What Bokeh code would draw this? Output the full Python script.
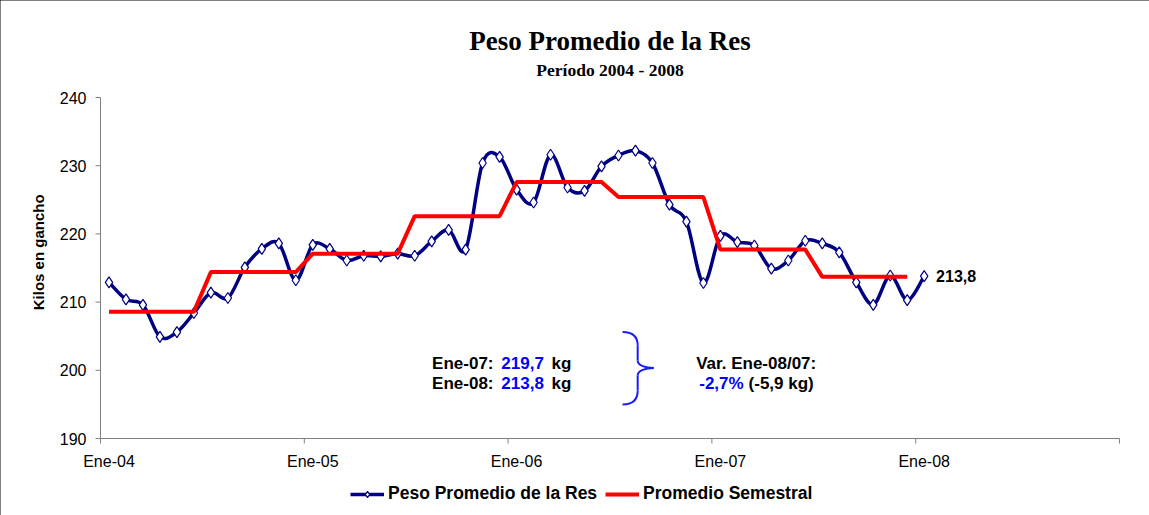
import numpy as np
from bokeh.plotting import figure
from bokeh.models import (Range1d, Legend, LegendItem)
from bokeh.core.properties import value
from bokeh.embed import file_html
from bokeh.resources import INLINE

# ---------------- data ----------------
title = "Peso Promedio de la Res"
subtitle = "Período 2004 - 2008"
y_title = "Kilos en gancho"
year_labels = ["Ene-04", "Ene-05", "Ene-06", "Ene-07", "Ene-08"]
peso = [212.9, 210.4, 209.6, 204.9, 205.6, 208.4, 211.4, 210.6, 215.1, 217.8, 218.6, 213.2,
        218.4, 217.8, 216.1, 216.8, 216.7, 217.1, 216.8, 218.9, 220.6, 217.7, 230.4, 231.3,
        226.5, 224.6, 231.6, 226.8, 226.3, 229.9, 231.5, 232.2, 230.4, 224.3, 221.8, 212.8,
        219.7, 218.8, 218.3, 214.9, 216.1, 219.0, 218.6, 217.3, 212.9, 209.6, 213.9, 210.3,
        213.8]
semestral = [208.6, 214.4, 217.1, 222.6, 227.6, 225.4, 217.7, 213.7]
y_ticks = [190, 200, 210, 220, 230, 240]
y_tick_labels = ["190", "200", "210", "220", "230", "240"]
n_categories = 60  # Ene-04 .. Dic-08

# category positions (centre of each monthly category)
xs = [i + 0.5 for i in range(len(peso))]
sem_y = [v for v in semestral for _ in range(6)]
sem_x = [i + 0.5 for i in range(len(sem_y))]
bounds = [0, 12, 24, 36, 48, 60]
label_pos = [0.5 + 12 * k for k in range(len(year_labels))]

# smoothed curve (Catmull-Rom style bezier segments through the data points)
P = np.column_stack([xs, peso])
n = len(P)
x0, y0, x1, y1, cx0, cy0, cx1, cy1 = ([] for _ in range(8))
for i in range(n - 1):
    pm = P[i - 1] if i > 0 else P[i]
    pa = P[i]
    pb = P[i + 1]
    pn = P[i + 2] if i + 2 < n else P[i + 1]
    c0 = pa + (pb - pm) / 6.0
    c1 = pb - (pn - pa) / 6.0
    x0.append(pa[0]); y0.append(pa[1]); x1.append(pb[0]); y1.append(pb[1])
    cx0.append(c0[0]); cy0.append(c0[1]); cx1.append(c1[0]); cy1.append(c1[1])

# ---------------- geometry ----------------
W, H = 1149, 515
PLOT_W, PLOT_H = 1019, 341   # pixels of the 0..60 x span and the 190..240 y span
PLOT_L, PLOT_T = 100, 97     # pixel position of the plot area
PXX = PLOT_W / n_categories
PXY = PLOT_H / (y_ticks[-1] - y_ticks[0])
x_lo = -PLOT_L / PXX
x_hi = n_categories + (W - PLOT_L - PLOT_W) / PXX
y_hi = y_ticks[-1] + PLOT_T / PXY
y_lo = y_ticks[0] - (H - PLOT_T - PLOT_H) / PXY

p = figure(frame_width=W, frame_height=H,
           min_border_left=0, min_border_right=0, min_border_top=0, min_border_bottom=0,
           x_range=Range1d(x_lo, x_hi), y_range=Range1d(y_lo, y_hi),
           x_axis_location=None, y_axis_location=None,
           output_backend="svg", toolbar_location=None,
           background_fill_color="white", border_fill_color="white",
           outline_line_color=None,
           styles={"outline": "1px solid black", "outline-offset": "-1px"})
p.xgrid.visible = False
p.ygrid.visible = False

AX = "#808080"
SANS = "Liberation Sans"
SERIF = "Liberation Serif"

# ---------------- value (y) axis ----------------
p.segment(x0=[0], y0=[y_ticks[0]], x1=[0], y1=[y_ticks[-1]], line_color=AX, line_width=1)
p.segment(x0=[0] * len(y_ticks), y0=y_ticks, x1=[-5 / PXX] * len(y_ticks), y1=y_ticks,
          line_color=AX, line_width=1)
p.text(x=[-14 / PXX] * len(y_ticks), y=y_ticks, text=y_tick_labels,
       text_font=value(SANS), text_font_size="16px", text_color="black",
       text_align="right", text_baseline="middle")
p.text(x=[-62.5 / PXX], y=[217.3], text=[y_title], angle=np.pi / 2,
       text_font=value(SANS), text_font_size="15px", text_font_style="bold",
       text_color="black", text_align="center", text_baseline="middle")

# ---------------- category (x) axis at y = 190 ----------------
base = y_ticks[0]
p.segment(x0=[bounds[0]], y0=[base], x1=[bounds[-1]], y1=[base], line_color=AX, line_width=1)
p.segment(x0=bounds, y0=[base] * len(bounds), x1=bounds, y1=[base - 5 / PXY] * len(bounds),
          line_color=AX, line_width=1)
p.text(x=label_pos, y=[base - 23 / PXY] * len(label_pos), text=year_labels,
       text_font=value(SANS), text_font_size="16px", text_color="black",
       text_align="center", text_baseline="middle")

# ---------------- titles ----------------
xc = n_categories / 2
p.text([xc], [y_ticks[-1] + 57 / PXY], text=[title], text_font=value(SERIF),
       text_font_style="bold", text_font_size="27px", text_color="black",
       text_align="center", text_baseline="middle")
p.text([xc], [y_ticks[-1] + 28 / PXY], text=[subtitle], text_font=value(SERIF),
       text_font_style="bold", text_font_size="17.5px", text_color="black",
       text_align="center", text_baseline="middle")

# ---------------- series ----------------
NAVY = "#000080"
p.bezier(x0=x0, y0=y0, x1=x1, y1=y1, cx0=cx0, cy0=cy0, cx1=cx1, cy1=cy1,
         line_color=NAVY, line_width=3.5, line_cap="round")
sc = p.scatter(xs, peso, marker="diamond", size=11, fill_color="white",
               line_color=NAVY, line_width=1.2)
red = p.line(sem_x, sem_y, line_color="#FF0000", line_width=4)
leg_line = p.line([np.nan], [np.nan], line_color=NAVY, line_width=3.5)

# end label
p.text([xs[-1] + 0.7], [peso[-1]], text=["213,8"], text_font=value(SANS),
       text_font_style="bold", text_font_size="16px", text_color="black",
       text_align="left", text_baseline="middle")

# annotation block
BLUE = "#0000FF"
tfs = "17px"
def txt(x, y, s, color, align):
    p.text([x], [y], text=[s], text_font=value(SANS), text_font_style="bold",
           text_font_size=tfs, text_color=color, text_align=align,
           text_baseline="alphabetic")

yl1, yl2 = 201.0, 198.1
txt(23.14, yl1, "Ene-07:", "black", "right")
txt(23.60, yl1, "219,7", BLUE, "left")
txt(26.56, yl1, "kg", "black", "left")
txt(23.14, yl2, "Ene-08:", "black", "right")
txt(23.60, yl2, "213,8", BLUE, "left")
txt(26.56, yl2, "kg", "black", "left")
txt(38.61, yl1, "Var. Ene-08/07:", "black", "center")
txt(37.87, yl2, "-2,7%", BLUE, "right")
txt(38.16, yl2, "(-5,9 kg)", "black", "left")

# curly brace
bx = dict(x0=[30.74, 31.63, 31.63, 32.57, 31.63, 31.63],
          y0=[205.62, 203.64, 201.44, 200.34, 199.24, 197.04],
          x1=[31.63, 31.63, 32.57, 31.63, 31.63, 30.74],
          y1=[203.64, 201.44, 200.34, 199.24, 197.04, 194.99],
          cx0=[31.33, 31.63, 31.63, 32.10, 31.63, 31.63],
          cy0=[205.62, 203.64, 200.70, 200.34, 199.24, 195.72],
          cx1=[31.63, 31.63, 32.10, 31.63, 31.63, 31.33],
          cy1=[204.96, 201.44, 200.34, 199.97, 197.04, 194.99])
p.bezier(**bx, line_color="#1a1aff", line_width=2)

# ---------------- legend ----------------
legend = Legend(items=[LegendItem(label="Peso Promedio de la Res", renderers=[leg_line, sc]),
                       LegendItem(label="Promedio Semestral", renderers=[red])],
                orientation="horizontal", location=(350, 11),
                border_line_color=None, background_fill_alpha=0,
                label_text_font=SANS, label_text_font_style="bold", label_text_font_size="17.5px",
                label_text_color="black",
                glyph_width=34, glyph_height=16, label_standoff=4, spacing=8,
                padding=0, margin=0)
p.add_layout(legend, "center")

open("out.html", "w").write(file_html(p, INLINE))
